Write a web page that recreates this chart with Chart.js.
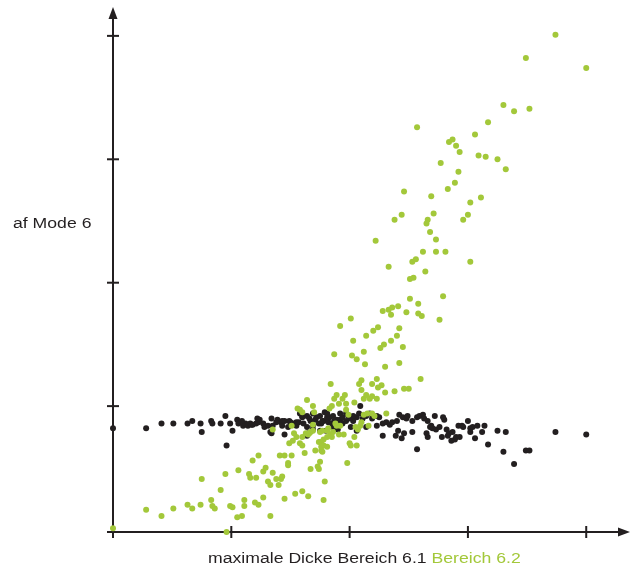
<!DOCTYPE html>
<html>
<head>
<meta charset="utf-8">
<script src="https://cdn.jsdelivr.net/npm/chart.js@4/dist/chart.umd.min.js"></script>
<style>
  html, body { margin: 0; padding: 0; background: #ffffff; }
  #wrap { width: 634px; height: 566px; position: relative; }
</style>
</head>
<body>
<div id="wrap"><canvas id="chart" width="634" height="566"></canvas></div>
<script>
// Axis titles
const yTitle = 'af Mode 6';
const xTitle = 'maximale Dicke Bereich 6.1';
const xTitleSecond = 'Bereich 6.2';

// Tick positions (no tick labels are shown)
const xTicks = [1, 2, 3, 4];
const yTicks = [1, 2, 3, 4];

// Bereich 6.1 (black): [maximale Dicke, af Mode 6]
const bereich61 = [
  [0.00,0.82],[0.28,0.82],[0.41,0.86],[0.51,0.86],[0.63,0.86],[0.67,0.88],[0.74,0.86],[0.75,0.79],
  [0.83,0.88],[0.84,0.86],[0.91,0.86],[0.95,0.92],[0.96,0.68],[0.99,0.86],[1.01,0.80],[1.05,0.89],
  [1.06,0.86],[1.10,0.84],[1.12,0.86],[1.14,0.84],[1.16,0.86],[1.18,0.85],[1.21,0.86],[1.23,0.87],
  [1.24,0.89],[1.27,0.86],[1.28,0.83],[1.31,0.84],[1.33,0.79],[1.35,0.84],[1.38,0.87],[1.39,0.89],
  [1.42,0.87],[1.43,0.84],[1.45,0.88],[1.48,0.83],[1.50,0.87],[1.53,0.86],[1.55,0.84],[1.57,0.87],
  [1.60,0.92],[1.61,0.86],[1.64,0.83],[1.65,0.78],[1.67,0.88],[1.69,0.84],[1.71,0.89],[1.74,0.86],
  [1.76,0.86],[1.78,0.88],[1.81,0.91],[1.82,0.87],[1.85,0.86],[1.87,0.88],[1.90,0.87],[1.92,0.89],
  [1.94,0.86],[1.97,0.88],[1.99,0.92],[2.01,0.83],[2.03,0.88],[2.06,0.91],
  [1.45,0.77],[1.34,0.78],[1.64,0.76],
  [1.09,0.88],[1.17,0.85],[1.22,0.90],[1.34,0.90],[1.43,0.88],[1.49,0.88],[1.55,0.87],[1.79,0.95],
  [1.58,0.94],[1.60,0.91],[1.64,0.92],[1.66,0.90],[1.69,0.94],[1.72,0.91],[1.75,0.92],[1.77,0.88],
  [1.81,0.94],[1.83,0.91],[1.86,0.92],[1.89,0.89],[1.92,0.94],[1.94,0.91],[1.97,0.94],[2.00,0.90],
  [2.03,0.92],[2.08,0.94],[2.09,1.00],[2.11,0.90],[2.14,0.92],[2.17,0.94],[2.19,0.90],[2.23,0.92],
  [2.25,0.91],[2.28,0.86],[2.31,0.87],[2.34,0.85],[2.36,0.87],[2.40,0.88],[2.42,0.93],[2.45,0.91],
  [2.48,0.90],[2.49,0.92],[2.53,0.88],[2.57,0.91],[2.59,0.92],[2.62,0.93],[2.63,0.90],[2.66,0.88],
  [2.69,0.84],[2.72,0.92],[2.73,0.81],[2.76,0.83],[2.79,0.91],[2.80,0.89],[2.82,0.81],[2.84,0.78],
  [2.87,0.79],[2.89,0.73],[2.90,0.75],[2.92,0.84],[2.93,0.75],[2.95,0.84],[2.96,0.83],[3.00,0.88],
  [3.02,0.82],[3.02,0.79],[3.04,0.83],[3.06,0.74],[3.08,0.84],[3.12,0.79],[3.14,0.84],[3.17,0.69],
  [3.25,0.80],[3.30,0.63],[3.32,0.79],[3.39,0.53],[3.49,0.64],[3.52,0.64],[3.74,0.79],[4.00,0.77],
  [1.69,0.81],[1.75,0.80],[1.80,0.80],[1.86,0.83],[1.90,0.81],[2.06,0.80],[2.14,0.83],[2.23,0.84],
  [2.28,0.76],[2.39,0.76],[2.41,0.80],[2.44,0.74],[2.46,0.78],[2.53,0.79],[2.57,0.65],[2.65,0.78],
  [2.66,0.75],[2.68,0.83],[2.70,0.82],[2.78,0.75],[2.83,0.76],[2.86,0.72]
];

// Bereich 6.2 (green): [maximale Dicke, af Mode 6]
const bereich62 = [
  [0.00,0.01],[0.96,-0.02],[0.28,0.16],[0.41,0.11],[0.51,0.17],[0.63,0.20],[0.67,0.17],[0.74,0.20],
  [0.75,0.41],[0.83,0.24],[0.84,0.19],[0.86,0.17],[0.91,0.32],[0.95,0.45],[0.99,0.19],[1.01,0.18],
  [1.05,0.10],[1.09,0.11],[1.06,0.48],[1.11,0.19],[1.11,0.24],[1.15,0.45],[1.16,0.42],[1.18,0.56],
  [1.20,0.22],[1.23,0.20],[1.23,0.60],[1.21,0.42],[1.27,0.26],[1.27,0.47],[1.29,0.50],[1.31,0.39],
  [1.33,0.36],[1.33,0.11],[1.35,0.46],[1.38,0.41],[1.41,0.60],[1.45,0.60],[1.42,0.41],[1.43,0.43],
  [1.40,0.36],[1.45,0.25],[1.48,0.54],[1.48,0.52],[1.51,0.60],[1.54,0.29],[1.60,0.31],[1.65,0.27],
  [1.62,0.62],[1.67,0.49],[1.71,0.64],[1.73,0.51],[1.74,0.49],[1.75,0.55],[1.76,0.64],[1.78,0.68],
  [1.78,0.24],[1.79,0.39],[1.81,0.67],[1.98,0.54],[2.01,0.68],[2.06,0.68],[2.04,0.75],
  [1.49,0.70],[1.52,0.72],[1.55,0.75],[1.58,0.70],[1.60,0.68],[1.60,0.75],[1.65,0.77],[1.67,0.79],
  [1.69,0.80],[1.74,0.71],[1.76,0.71],[1.78,0.73],[1.81,0.75],[1.84,0.77],[1.86,0.79],[1.88,0.86],
  [1.92,0.84],[2.05,0.83],[2.07,0.81],[1.51,0.84],[1.53,0.78],[1.35,0.81],[1.56,0.98],[1.64,1.05],
  [1.69,1.00],[1.83,0.98],[1.85,1.00],[1.87,1.06],[1.89,1.09],[1.91,1.02],[1.96,1.09],[1.97,1.02],
  [1.99,0.93],[2.04,1.03],[1.70,0.95],[2.12,1.06],[2.14,1.09],[2.17,1.06],[1.97,0.97],[1.69,0.85],
  [1.75,0.79],[1.77,0.80],[1.76,0.67],[1.82,0.82],[1.89,0.84],[1.91,0.77],[1.95,0.77],[1.85,0.75],
  [2.09,0.84],[2.12,0.93],[2.10,0.87],[2.15,0.94],[2.16,0.84],[1.77,0.63],[2.19,0.94],[2.21,0.92],
  [2.31,0.94],[1.58,0.97],[1.60,0.95],[1.63,0.78],[1.66,0.78],[1.81,0.80],[2.00,0.70],
  [1.84,1.18],[1.94,1.06],[2.19,1.08],[2.23,1.06],[2.10,1.21],[2.08,1.18],[2.19,1.18],[2.23,1.22],
  [2.27,1.17],[2.24,1.15],[2.10,1.13],[2.30,1.11],[2.38,1.12],[2.46,1.14],[2.50,1.14],[1.87,1.42],
  [2.02,1.41],[2.12,1.44],[2.06,1.38],[2.13,1.34],[2.42,1.35],[2.30,1.32],[2.60,1.22],[2.01,1.71],
  [1.92,1.65],[2.24,1.64],[2.20,1.61],[2.42,1.63],[2.14,1.57],[2.40,1.57],[2.03,1.53],[2.35,1.53],
  [2.29,1.50],[2.26,1.47],[2.45,1.48],[2.41,1.81],[2.36,1.80],[2.33,1.78],[2.28,1.77],[2.35,1.74],
  [2.48,1.76],[2.58,1.75],[2.61,1.73],[2.76,1.70],[2.51,1.87],[2.58,1.83],[2.79,1.89],[2.54,2.04],
  [2.51,2.03],[2.33,2.13],[2.64,2.09],[2.56,2.19],[2.53,2.17],[3.02,2.17],[2.62,2.25],[2.73,2.25],
  [2.81,2.25],[2.22,2.34],[2.68,2.41],[2.73,2.35],[2.66,2.51],[2.65,2.48],[2.38,2.51],[2.96,2.51],
  [2.44,2.55],[2.71,2.56],[3.00,2.55],[3.02,2.65],[3.11,2.69],[2.69,2.70],[2.46,2.74],[2.83,2.76],
  [2.89,2.81],[2.92,2.90],[3.32,2.92],[2.77,2.97],[3.25,3.00],[3.09,3.03],[3.15,3.02],[2.93,3.06],
  [2.90,3.11],[2.84,3.14],[2.87,3.16],[3.06,3.20],[2.57,3.26],[3.17,3.30],[3.30,3.44],[3.39,3.39],
  [3.52,3.41],[3.49,3.82],[3.74,4.01],[4.00,3.74]
];

const INK = '#231f20';
const GREEN = '#a3c83a';
const FONT = '14px "Liberation Sans", Arial, Helvetica, sans-serif';
const STRETCH = 1.26;

const toPoints = rows => rows.map(([x, y]) => ({ x, y }));

// Axes drawn as arrows with ticks crossing the axis line
const arrowAxes = {
  id: 'arrowAxes',
  beforeDatasetsDraw(chart) {
    const { ctx, chartArea: a, scales: { x, y } } = chart;
    const x0 = x.getPixelForValue(0);
    const y0 = a.bottom;
    const line = (x1, y1, x2, y2) => { ctx.beginPath(); ctx.moveTo(x1, y1); ctx.lineTo(x2, y2); ctx.stroke(); };
    ctx.save();
    ctx.strokeStyle = INK;
    ctx.fillStyle = INK;
    ctx.lineWidth = 2;
    // vertical axis
    line(x0, y0 + 6, x0, a.top + 8);
    ctx.beginPath();
    ctx.moveTo(x0, a.top);
    ctx.lineTo(x0 - 4.5, a.top + 12);
    ctx.lineTo(x0 + 4.5, a.top + 12);
    ctx.closePath();
    ctx.fill();
    // horizontal axis
    line(x0 - 6, y0, a.right - 8, y0);
    ctx.beginPath();
    ctx.moveTo(a.right, y0);
    ctx.lineTo(a.right - 12, y0 - 4.5);
    ctx.lineTo(a.right - 12, y0 + 4.5);
    ctx.closePath();
    ctx.fill();
    // tick marks
    xTicks.forEach(v => { const px = x.getPixelForValue(v); line(px, y0 - 6, px, y0 + 6); });
    yTicks.forEach(v => { const py = y.getPixelForValue(v); line(x0 - 6, py, x0 + 6, py); });
    ctx.restore();
  },
  afterDraw(chart) {
    const { ctx } = chart;
    ctx.save();
    ctx.font = FONT;
    ctx.textBaseline = 'alphabetic';
    ctx.textAlign = 'left';
    // vertical axis title, written horizontally left of the axis
    ctx.save();
    ctx.translate(13, 228);
    ctx.scale(STRETCH, 1);
    ctx.fillStyle = INK;
    ctx.fillText(yTitle, 0, 0);
    ctx.restore();
    // horizontal axis title in two colours
    ctx.save();
    ctx.translate(208, 563);
    ctx.scale(STRETCH, 1);
    ctx.fillStyle = INK;
    ctx.fillText(xTitle, 0, 0);
    const w = ctx.measureText(xTitle + ' ').width;
    ctx.fillStyle = GREEN;
    ctx.fillText(xTitleSecond, w, 0);
    ctx.restore();
    ctx.restore();
  }
};

new Chart(document.getElementById('chart'), {
  type: 'scatter',
  data: {
    datasets: [
      {
        label: 'Bereich 6.1',
        data: toPoints(bereich61),
        backgroundColor: INK,
        borderWidth: 0,
        pointRadius: 3,
        clip: false,
        order: 1
      },
      {
        label: 'Bereich 6.2',
        data: toPoints(bereich62),
        backgroundColor: GREEN,
        borderWidth: 0,
        pointRadius: 3,
        clip: false,
        order: 0
      }
    ]
  },
  options: {
    responsive: false,
    animation: false,
    devicePixelRatio: 1,
    layout: { padding: { left: 113, right: 3, top: 7, bottom: 34 } },
    plugins: { legend: { display: false }, tooltip: { enabled: false } },
    scales: {
      x: { type: 'linear', display: false, min: 0, max: 4.37 },
      y: { type: 'linear', display: false, min: -0.02, max: 4.234 }
    }
  },
  plugins: [arrowAxes]
});
</script>
</body>
</html>
